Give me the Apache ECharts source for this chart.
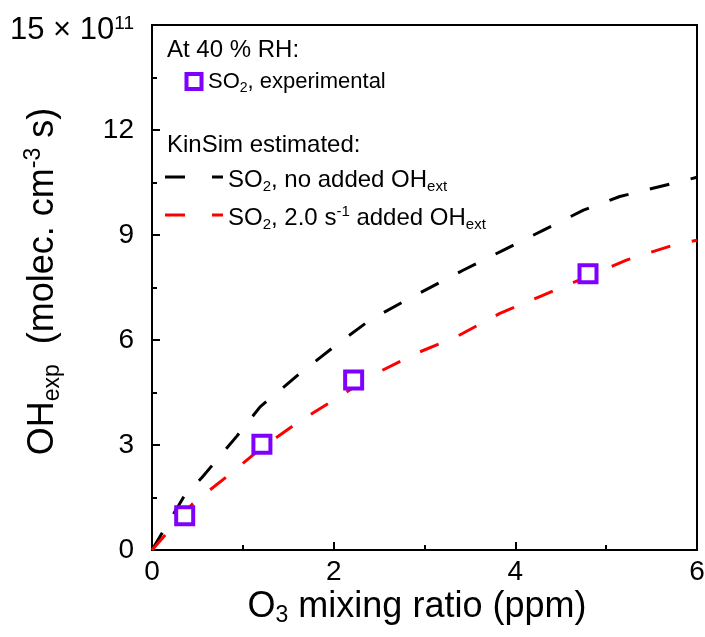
<!DOCTYPE html>
<html><head><meta charset="utf-8">
<script src="https://cdn.jsdelivr.net/npm/echarts@6/dist/echarts.min.js"></script>
<style>html,body{margin:0;padding:0;background:#fff}#c{width:705px;height:637px}</style>
</head><body><div id="c"></div>
<script>
// Experimental points (O3 ppm, OH exposure ×10^11)
const expX = [0.36, 1.21, 2.22, 4.80];
const expY = [0.98, 3.02, 4.86, 7.89];
// KinSim: no added OHext
const noOhX = [0, 0.35, 0.55, 0.93, 1.19, 1.63, 2.03, 2.40, 2.80, 3.43, 3.87, 4.31, 4.75, 5.15, 5.74, 6.0];
const noOhY = [0, 1.52, 2.07, 3.24, 4.09, 5.05, 5.86, 6.57, 7.14, 8.00, 8.57, 9.14, 9.71, 10.10, 10.48, 10.65];
// KinSim: 2.0 s-1 added OHext
const addOhX = [0, 0.45, 0.82, 1.20, 1.59, 2.03, 2.47, 2.91, 3.35, 3.83, 4.27, 4.80, 5.23, 5.74, 6.0];
const addOhY = [0, 1.33, 2.09, 2.90, 3.62, 4.33, 5.05, 5.62, 6.09, 6.76, 7.24, 7.82, 8.29, 8.71, 8.85];
// Axis ticks
const xTicks = [0, 2, 4, 6];
const yTicks = [0, 3, 6, 9, 12, 15];
const yTopLabel = '15 × 10';
const yTopExp = '11';

const FONT = '"Liberation Sans", Arial, sans-serif';
const PURPLE = '#7F00FF';
const pairs = (xs, ys) => xs.map((x, i) => [x, ys[i]]);

const chart = echarts.init(document.getElementById('c'));
chart.setOption({
  animation: false,
  backgroundColor: '#fff',
  grid: { left: 152, right: 8, top: 25, bottom: 87, show: true, borderColor: '#000', borderWidth: 2,
          containLabel: false, outerBoundsMode: 'none' },
  xAxis: {
    type: 'value', min: xTicks[0], max: xTicks[xTicks.length - 1], interval: 2,
    axisLine: { lineStyle: { color: '#000', width: 2 } },
    axisTick: { inside: true, length: 8, lineStyle: { color: '#000', width: 2 } },
    minorTick: { show: true, splitNumber: 2, length: 5, lineStyle: { color: '#000', width: 2 } },
    splitLine: { show: false },
    axisLabel: { color: '#000', fontSize: 28, fontFamily: FONT, margin: 8 },
    name: 'O{sub|3} mixing ratio (ppm)',
    nameLocation: 'middle', nameGap: 37, nameMoveOverlap: false,
    nameTextStyle: {
      color: '#000', fontSize: 36, fontFamily: FONT, lineHeight: 40, padding: [0, 15, 0, 0],
      rich: { sub: { fontSize: 23, fontFamily: FONT, lineHeight: 18, verticalAlign: 'bottom', color: '#000' } }
    }
  },
  yAxis: {
    type: 'value', min: yTicks[0], max: yTicks[yTicks.length - 1], interval: 3,
    axisLine: { lineStyle: { color: '#000', width: 2 } },
    axisTick: { inside: true, length: 8, lineStyle: { color: '#000', width: 2 } },
    minorTick: { show: true, splitNumber: 2, length: 5, lineStyle: { color: '#000', width: 2 } },
    splitLine: { show: false },
    axisLabel: {
      color: '#000', fontSize: 28, fontFamily: FONT, margin: 18, lineHeight: 30,
      formatter: v => v === yTicks[yTicks.length - 1] ? '{big|' + yTopLabel + '}{sup|' + yTopExp + '}' : String(v),
      rich: {
        big: { fontSize: 31, fontFamily: FONT, lineHeight: 42, verticalAlign: 'bottom', color: '#000' },
        sup: { fontSize: 19, fontFamily: FONT, lineHeight: 16, padding: [0, 0, 13, 0], verticalAlign: 'bottom', color: '#000' }
      }
    },
    name: 'OH{sub|exp}  (molec. cm{sup|-3} s)',
    nameLocation: 'middle', nameGap: 88, nameRotate: 90, nameMoveOverlap: false,
    nameTextStyle: {
      color: '#000', fontSize: 36, fontFamily: FONT, lineHeight: 42, padding: [0, 0, 0, 12],
      rich: {
        sub: { fontSize: 23, fontFamily: FONT, lineHeight: 18, verticalAlign: 'bottom', color: '#000' },
        sup: { fontSize: 23, fontFamily: FONT, lineHeight: 18, verticalAlign: 'top', color: '#000' }
      }
    }
  },
  series: [
    {
      type: 'line', data: pairs(noOhX, noOhY), symbol: 'none', smooth: false, z: 2,
      lineStyle: { color: '#000', width: 3, type: [20, 22] }
    },
    {
      type: 'line', data: pairs(addOhX, addOhY), symbol: 'none', smooth: false, z: 2,
      lineStyle: { color: '#FF0000', width: 3, type: [20, 22] }
    },
    {
      type: 'scatter', data: pairs(expX, expY), symbol: 'rect', symbolSize: 17, z: 5,
      itemStyle: { color: '#fff', borderColor: PURPLE, borderWidth: 4, opacity: 1 }
    }
  ],
  graphic: [
    { type: 'text', x: 167, y: 50, style: { text: 'At 40 % RH:', font: '24px ' + FONT, fill: '#000', textAlign: 'left', textVerticalAlign: 'middle' } },
    { type: 'rect', shape: { x: 186.5, y: 74, width: 15, height: 15 }, style: { fill: '#fff', stroke: PURPLE, lineWidth: 4 } },
    { type: 'text', x: 208, y: 82, style: {
        text: 'SO{sub|2}, experimental', font: '22px ' + FONT, fill: '#000', textAlign: 'left', textVerticalAlign: 'middle', lineHeight: 26,
        rich: { sub: { fontSize: 14, fontFamily: FONT, lineHeight: 12, verticalAlign: 'bottom', fill: '#000' } } } },
    { type: 'text', x: 167, y: 145, style: { text: 'KinSim estimated:', font: '24px ' + FONT, fill: '#000', textAlign: 'left', textVerticalAlign: 'middle' } },
    { type: 'line', shape: { x1: 165, y1: 177, x2: 223, y2: 177 }, style: { stroke: '#000', lineWidth: 3, lineDash: [20, 27] } },
    { type: 'text', x: 228, y: 180, style: {
        text: 'SO{sub|2}, no added OH{sub|ext}', font: '24px ' + FONT, fill: '#000', textAlign: 'left', textVerticalAlign: 'middle', lineHeight: 28,
        rich: { sub: { fontSize: 15, fontFamily: FONT, lineHeight: 12, verticalAlign: 'bottom', fill: '#000' } } } },
    { type: 'line', shape: { x1: 165, y1: 215, x2: 223, y2: 215 }, style: { stroke: '#FF0000', lineWidth: 3, lineDash: [20, 27] } },
    { type: 'text', x: 228, y: 218, style: {
        text: 'SO{sub|2}, 2.0 s{sup|-1} added OH{sub|ext}', font: '24px ' + FONT, fill: '#000', textAlign: 'left', textVerticalAlign: 'middle', lineHeight: 28,
        rich: {
          sub: { fontSize: 15, fontFamily: FONT, lineHeight: 12, verticalAlign: 'bottom', fill: '#000' },
          sup: { fontSize: 15, fontFamily: FONT, lineHeight: 12, verticalAlign: 'top', fill: '#000' }
        } } }
  ]
});
</script>
</body></html>
